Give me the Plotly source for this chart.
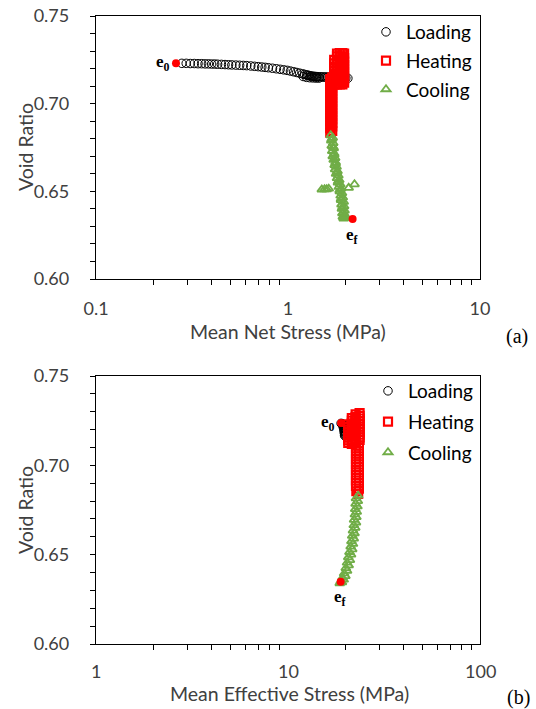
import math
import plotly.graph_objects as go

# ---------------- data: panel (a) ----------------
A_LOAD_X = [0.28, 0.295, 0.31, 0.325, 0.34, 0.355, 0.37, 0.385, 0.40, 0.415, 0.43, 0.45, 0.47, 0.49,
            0.51, 0.535, 0.56, 0.585, 0.61, 0.64, 0.67, 0.70, 0.73, 0.76, 0.79, 0.83, 0.87, 0.91, 0.95,
            0.99, 1.03, 1.07, 1.11, 1.15, 1.19, 1.22, 1.25, 1.27, 1.29, 1.31, 1.33, 1.35, 1.37, 1.39,
            1.41, 1.43, 1.46, 1.49, 1.52, 1.55, 1.58, 1.61, 1.64, 1.68, 1.72, 1.76, 1.80, 1.85, 1.90,
            1.95, 2.00, 2.05, 1.20, 1.25, 1.30, 1.35, 1.40, 1.45]
A_LOAD_Y = [0.7230, 0.7230, 0.7229, 0.7229, 0.7228, 0.7228, 0.7227, 0.7227, 0.7226, 0.7226, 0.7225,
            0.7224, 0.7223, 0.7222, 0.7221, 0.7220, 0.7219, 0.7218, 0.7217, 0.7215, 0.7213, 0.7211,
            0.7209, 0.7207, 0.7205, 0.7202, 0.7199, 0.7196, 0.7193, 0.7190, 0.7186, 0.7182, 0.7178,
            0.7174, 0.7170, 0.7167, 0.7164, 0.7162, 0.7160, 0.7158, 0.7157, 0.7156, 0.7155, 0.7155,
            0.7154, 0.7154, 0.7153, 0.7153, 0.7152, 0.7152, 0.7152, 0.7151, 0.7151, 0.7150, 0.7150,
            0.7149, 0.7149, 0.7148, 0.7148, 0.7147, 0.7146, 0.7145, 0.7155, 0.7150, 0.7148, 0.7147,
            0.7146, 0.7146]

A_HEAT_X = [1.66, 1.66, 1.66, 1.66, 1.66, 1.66, 1.66, 1.66, 1.66, 1.66, 1.66, 1.66, 1.66, 1.66,
            1.66, 1.66,
            1.70, 1.70, 1.70, 1.70, 1.70, 1.70, 1.70, 1.70, 1.70, 1.70, 1.70, 1.70, 1.70, 1.70,
            1.70, 1.70,
            1.74, 1.74, 1.74, 1.74, 1.74, 1.74, 1.74, 1.74,
            1.80, 1.80, 1.80, 1.80, 1.80, 1.80, 1.80, 1.80, 1.80, 1.80,
            1.86, 1.86, 1.86, 1.86, 1.86, 1.86, 1.86, 1.86, 1.86, 1.86,
            1.92, 1.92, 1.92, 1.92, 1.92, 1.92, 1.92, 1.92, 1.92, 1.92,
            1.96, 1.96, 1.96, 1.96, 1.96, 1.96, 1.96, 1.96, 1.96]
A_HEAT_Y = [0.7140, 0.7120, 0.7100, 0.7080, 0.7060, 0.7040, 0.7020, 0.7000, 0.6980, 0.6960, 0.6940,
            0.6920, 0.6900, 0.6880, 0.6860, 0.6835,
            0.7150, 0.7130, 0.7110, 0.7090, 0.7070, 0.7050, 0.7030, 0.7010, 0.6990, 0.6970, 0.6950,
            0.6930, 0.6910, 0.6890, 0.6870, 0.6845,
            0.7110, 0.7130, 0.7150, 0.7170, 0.7190, 0.7210, 0.7230, 0.7250,
            0.7110, 0.7130, 0.7150, 0.7170, 0.7190, 0.7210, 0.7230, 0.7250, 0.7270, 0.7285,
            0.7110, 0.7130, 0.7150, 0.7170, 0.7190, 0.7210, 0.7230, 0.7250, 0.7270, 0.7288,
            0.7110, 0.7130, 0.7150, 0.7170, 0.7190, 0.7210, 0.7230, 0.7250, 0.7270, 0.7288,
            0.7120, 0.7140, 0.7160, 0.7180, 0.7200, 0.7220, 0.7240, 0.7260, 0.7285]

A_COOL_X = [1.67, 1.71, 1.68, 1.72, 1.69, 1.73, 1.70, 1.74, 1.71, 1.76, 1.73, 1.77, 1.75, 1.79,
            1.76, 1.81, 1.78, 1.83, 1.80, 1.85, 1.82, 1.87, 1.84, 1.89, 1.86, 1.91, 1.88, 1.93,
            1.89, 1.95, 1.90, 1.96, 1.91, 1.97, 1.92, 1.98, 1.93, 1.99, 1.95, 2.01,
            1.69, 1.72, 1.74, 1.77, 1.80, 1.83, 1.86, 1.89, 1.92, 1.94, 1.96,
            1.50, 1.55, 1.59, 1.63, 2.07, 2.22]
A_COOL_Y = [0.6820, 0.6805, 0.6790, 0.6775, 0.6760, 0.6745, 0.6730, 0.6715, 0.6700, 0.6690, 0.6680,
            0.6665, 0.6650, 0.6640, 0.6625, 0.6615, 0.6600, 0.6590, 0.6575, 0.6565, 0.6550, 0.6540,
            0.6525, 0.6515, 0.6500, 0.6490, 0.6475, 0.6465, 0.6450, 0.6440, 0.6425, 0.6415, 0.6400,
            0.6390, 0.6375, 0.6365, 0.6355, 0.6350, 0.6345, 0.6350,
            0.6798, 0.6752, 0.6708, 0.6658, 0.6608, 0.6558, 0.6508, 0.6458, 0.6408, 0.6378, 0.6360,
            0.6510, 0.6512, 0.6512, 0.6515, 0.6520, 0.6540]

A_E0 = (0.261, 0.7231)
A_EF = (2.17, 0.6342)

# ---------------- data: panel (b) ----------------
B_LOAD_X = [18.9, 19.2, 19.5, 19.3, 19.6, 19.4, 19.7, 19.5, 19.8, 19.6, 19.8, 19.6, 19.9, 19.7,
            19.9, 19.7, 19.8]
B_LOAD_Y = [0.7235, 0.7232, 0.7228, 0.7224, 0.7220, 0.7215, 0.7212, 0.7207, 0.7203, 0.7198, 0.7193,
            0.7188, 0.7184, 0.7179, 0.7174, 0.7169, 0.7165]

B_HEAT_X = [20.6, 20.6, 20.6, 20.6, 20.6, 20.6, 20.6, 20.6,
            21.5, 21.5, 21.5, 21.5, 21.5, 21.5, 21.5, 21.5, 21.5, 21.5, 21.5,
            22.5, 22.5, 22.5, 22.5, 22.5, 22.5, 22.5, 22.5, 22.5, 22.5, 22.5,
            23.6, 23.6, 23.6, 23.6, 23.6, 23.6, 23.6, 23.6, 23.6, 23.6, 23.6,
            22.6, 23.4, 22.6, 23.4, 22.6, 23.4, 22.6, 23.4, 22.6, 23.4, 22.6, 23.4, 22.6, 23.4,
            22.6, 23.4, 22.6, 23.4, 22.7, 23.2]
B_HEAT_Y = [0.7230, 0.7215, 0.7200, 0.7185, 0.7170, 0.7155, 0.7140, 0.7125,
            0.7265, 0.7250, 0.7235, 0.7220, 0.7205, 0.7190, 0.7175, 0.7160, 0.7145, 0.7130, 0.7120,
            0.7285, 0.7270, 0.7255, 0.7240, 0.7225, 0.7210, 0.7195, 0.7180, 0.7165, 0.7150, 0.7135,
            0.7292, 0.7277, 0.7262, 0.7247, 0.7232, 0.7217, 0.7202, 0.7187, 0.7172, 0.7157, 0.7142,
            0.7125, 0.7110, 0.7095, 0.7080, 0.7065, 0.7050, 0.7035, 0.7020, 0.7005, 0.6990, 0.6975,
            0.6960, 0.6945, 0.6930, 0.6915, 0.6900, 0.6885, 0.6870, 0.6855, 0.6840]

B_COOL_X = [23.2, 22.6, 23.1, 22.5, 23.0, 22.4, 22.8, 22.3, 22.7, 22.1, 22.6, 22.0, 22.4, 21.8,
            22.2, 21.6, 22.0, 21.4, 21.8, 21.2, 21.6, 20.9, 21.3, 20.6, 21.0, 20.3, 20.7, 20.0,
            20.3, 19.6, 19.9, 19.2, 19.5, 18.8, 19.1, 18.6]
B_COOL_Y = [0.6830, 0.6815, 0.6800, 0.6785, 0.6770, 0.6755, 0.6740, 0.6725, 0.6710, 0.6695, 0.6680,
            0.6665, 0.6650, 0.6635, 0.6620, 0.6605, 0.6590, 0.6575, 0.6560, 0.6545, 0.6530, 0.6515,
            0.6500, 0.6485, 0.6470, 0.6455, 0.6440, 0.6425, 0.6410, 0.6395, 0.6380, 0.6370, 0.6360,
            0.6350, 0.6345, 0.6340]

B_E0 = (18.9, 0.7237)
B_EF = (18.8, 0.6349)

Y_TICKS = [0.60, 0.65, 0.70, 0.75]
A_X_TICKS = [0.1, 1, 10]
B_X_TICKS = [1, 10, 100]
A_X_MINOR = [0.2, 0.3, 0.4, 0.5, 0.6, 0.7, 0.8, 0.9, 2, 3, 4, 5, 6, 7, 8, 9]
B_X_MINOR = [2, 3, 4, 5, 6, 7, 8, 9, 20, 30, 40, 50, 60, 70, 80, 90]

# ---------------- styles ----------------
FONT = "Lato"
GREEN = "#70AD47"
RED = "#FF0000"
CLEAR = "rgba(0,0,0,0)"

fig = go.Figure()


def add_panel(xa, ya, leg, lx, ly, hx, hy, cx, cy, e0, ef):
    fig.add_trace(go.Scatter(x=lx, y=ly, mode="markers", name="Loading", xaxis=xa, yaxis=ya,
                             legend=leg, legendgroup=leg + "l",
                             marker=dict(symbol="circle-open", size=8.5, color="black",
                                         line=dict(width=1, color="black"))))
    fig.add_trace(go.Scatter(x=hx, y=hy, mode="markers", name="Heating", xaxis=xa, yaxis=ya,
                             legend=leg, legendgroup=leg + "h",
                             marker=dict(symbol="square-open", size=8, color=RED,
                                         line=dict(width=2.2, color=RED))))
    fig.add_trace(go.Scatter(x=cx, y=cy, mode="markers", name="Cooling", xaxis=xa, yaxis=ya,
                             legend=leg, legendgroup=leg + "c",
                             marker=dict(symbol="triangle-up-open", size=8, color=GREEN,
                                         line=dict(width=1.8, color=GREEN))))
    fig.add_trace(go.Scatter(x=[e0[0], ef[0]], y=[e0[1], ef[1]], mode="markers",
                             xaxis=xa, yaxis=ya, showlegend=False,
                             marker=dict(symbol="circle", size=8, color=RED)))


add_panel("x", "y", "legend", A_LOAD_X, A_LOAD_Y, A_HEAT_X, A_HEAT_Y, A_COOL_X, A_COOL_Y, A_E0, A_EF)
add_panel("x2", "y2", "legend2", B_LOAD_X, B_LOAD_Y, B_HEAT_X, B_HEAT_Y, B_COOL_X, B_COOL_Y, B_E0, B_EF)

W, H = 536, 709
XD = [96 / W, 480 / W]
YD_A = [1 - 279 / H, 1 - 16 / H]
YD_B = [1 - 644 / H, 1 - 376 / H]

tickfont = dict(family=FONT, size=18, color="#404040")
titlefont = dict(family=FONT, size=19.5, color="#404040")


def xaxis(domain, rng, ticks, minor, anchor, labels=True):
    # labelled axis: long transparent major ticks push labels down, minor ticks visible
    return dict(domain=domain, type="log", range=rng, tickvals=ticks,
                ticktext=[str(t) for t in ticks], anchor=anchor, automargin=False,
                showticklabels=labels,
                showline=True, linecolor="black", linewidth=1.3, mirror=True,
                ticks="outside", ticklen=13, tickcolor=CLEAR, tickwidth=1,
                minor=dict(tickmode="array", tickvals=minor, ticks="outside", ticklen=5,
                           tickcolor="black", tickwidth=1, showgrid=False),
                showgrid=False, zeroline=False, tickfont=tickfont)


def xaxis_ticks(rng, ticks, over, anchor):
    return dict(type="log", range=rng, tickvals=ticks, overlaying=over, anchor=anchor,
                automargin=False, showline=False, showticklabels=False,
                ticks="outside", ticklen=6, tickcolor="black", tickwidth=1.3,
                showgrid=False, zeroline=False)


def yaxis(domain, anchor):
    return dict(domain=domain, range=[0.60, 0.75], tickvals=Y_TICKS, tickformat=".2f",
                anchor=anchor, automargin=False, showline=True, linecolor="black",
                linewidth=1.3, mirror=True,
                ticks="outside", ticklen=22, tickcolor=CLEAR, tickwidth=1,
                minor=dict(ticks="outside", ticklen=5, tickcolor="black", tickwidth=1,
                           dtick=0.01, showgrid=False),
                showgrid=False, zeroline=False, tickfont=tickfont)


def yaxis_ticks(over, anchor):
    return dict(range=[0.60, 0.75], tickvals=Y_TICKS, overlaying=over, anchor=anchor,
                side="left", automargin=False, showline=False, showticklabels=False,
                ticks="outside", ticklen=6, tickcolor="black", tickwidth=1.3,
                showgrid=False, zeroline=False)


legfont = dict(family=FONT, size=19, color="black")

fig.update_layout(
    width=W, height=H, margin=dict(l=0, r=0, t=0, b=0),
    paper_bgcolor="white", plot_bgcolor="white",
    xaxis=xaxis(XD, [-1, 1], A_X_TICKS, A_X_MINOR, "y"),
    yaxis=yaxis(YD_A, "x"),
    xaxis2=xaxis(XD, [0, 2], B_X_TICKS, B_X_MINOR, "y2", labels=False),
    yaxis2=yaxis(YD_B, "x2"),
    xaxis3=xaxis_ticks([-1, 1], A_X_TICKS, "x", "y"),
    yaxis3=yaxis_ticks("y", "x"),
    xaxis4=xaxis_ticks([0, 2], B_X_TICKS, "x2", "y2"),
    yaxis4=yaxis_ticks("y2", "x2"),
    legend=dict(x=366 / W, y=1 - 13 / H, xanchor="left", yanchor="top", font=legfont,
                bgcolor=CLEAR, tracegroupgap=1, itemwidth=30),
    legend2=dict(x=368 / W, y=1 - 372 / H, xanchor="left", yanchor="top", font=legfont,
                 bgcolor=CLEAR, tracegroupgap=3, itemwidth=30),
    showlegend=True,
)

efont = dict(family="Liberation Serif", size=17, color="black")
tfont_ref = dict(family="Liberation Serif", size=20, color="black")
ann = [
    dict(x=-0.583, y=A_E0[1], xref="x", yref="y", text="<b>e<sub>0</sub></b>", showarrow=False,
         xanchor="right", yanchor="middle", xshift=-4, font=efont),
    dict(x=0.3365, y=A_EF[1], xref="x", yref="y", text="<b>e<sub>f</sub></b>", showarrow=False,
         xanchor="center", yanchor="top", yshift=-4, font=efont),
    dict(x=1.2765, y=B_E0[1], xref="x2", yref="y2", text="<b>e<sub>0</sub></b>", showarrow=False,
         xanchor="right", yanchor="middle", xshift=-4, font=efont),
    dict(x=1.2742, y=B_EF[1], xref="x2", yref="y2", text="<b>e<sub>f</sub></b>", showarrow=False,
         xanchor="center", yanchor="top", yshift=-3, font=efont),
    # axis titles
    dict(x=288 / W, y=1 - 332 / H, xref="paper", yref="paper", text="Mean Net Stress (MPa)",
         showarrow=False, xanchor="center", yanchor="middle", font=titlefont),
    dict(x=289 / W, y=1 - 693 / H, xref="paper", yref="paper", text="Mean Effective Stress (MPa)",
         showarrow=False, xanchor="center", yanchor="middle", font=titlefont),
    dict(x=25 / W, y=1 - 147 / H, xref="paper", yref="paper", text="Void Ratio", textangle=-90,
         showarrow=False, xanchor="center", yanchor="middle", font=titlefont),
    dict(x=25 / W, y=1 - 510 / H, xref="paper", yref="paper", text="Void Ratio", textangle=-90,
         showarrow=False, xanchor="center", yanchor="middle", font=titlefont),
    # panel tags
    dict(x=517 / W, y=1 - 337 / H, xref="paper", yref="paper", text="(a)", showarrow=False,
         xanchor="center", yanchor="middle", font=tfont_ref),
    dict(x=518 / W, y=1 - 697 / H, xref="paper", yref="paper", text="(b)", showarrow=False,
         xanchor="center", yanchor="middle", font=tfont_ref),
]
# tick labels of the lower stress axis, placed on that axis' own log scale
for t in B_X_TICKS:
    ann.append(dict(x=math.log10(t), y=1 - 671 / H, xref="x2", yref="paper", text=str(t),
                    showarrow=False, xanchor="center", yanchor="middle", font=tickfont))
fig.update_layout(annotations=ann)

fig.write_html("out.html")
